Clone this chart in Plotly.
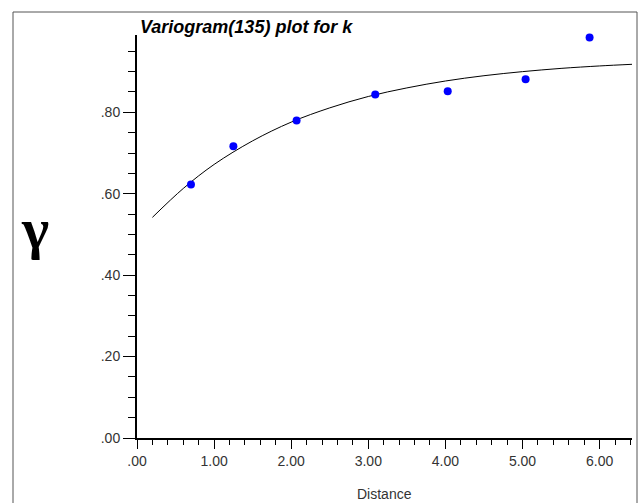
import plotly.graph_objects as go

# Experimental variogram points
lag_distance = [0.70, 1.25, 2.07, 3.09, 4.03, 5.04, 5.87]
gamma_values = [0.623, 0.717, 0.780, 0.844, 0.852, 0.881, 0.984]

# Fitted model curve
model_distance = [0.2, 0.6, 1.0, 1.5, 2.0, 2.5, 3.0, 3.5, 4.0, 4.5, 5.0, 5.5, 6.0, 6.42]
model_gamma = [0.542, 0.613, 0.672, 0.730, 0.776, 0.811, 0.839, 0.860, 0.877, 0.890, 0.900, 0.908, 0.914, 0.918]

x_tick_vals = [0, 1, 2, 3, 4, 5, 6]
x_tick_text = [".00", "1.00", "2.00", "3.00", "4.00", "5.00", "6.00"]
y_tick_vals = [0, 0.2, 0.4, 0.6, 0.8]
y_tick_text = [".00", ".20", ".40", ".60", ".80"]

W, H = 644, 503
L, R, T, B = 137, 12, 35, 65
pw, ph = W - L - R, H - T - B

def px(x):
    return (x - L) / pw

def py(y):
    return (H - B - y) / ph

fig = go.Figure()
fig.add_trace(go.Scatter(x=model_distance, y=model_gamma, mode="lines",
                         line=dict(color="black", width=1, shape="spline"),
                         hoverinfo="skip", showlegend=False))
fig.add_trace(go.Scatter(x=lag_distance, y=gamma_values, mode="markers",
                         marker=dict(color="#0000ff", size=8), cliponaxis=False,
                         showlegend=False))

axis_font = dict(family="Liberation Sans, Arial, sans-serif", size=14, color="#333333")

fig.update_layout(
    width=W, height=H,
    margin=dict(l=L, r=R, t=T, b=B, pad=0),
    paper_bgcolor="white", plot_bgcolor="white",
    xaxis=dict(range=[0, 6.42], showgrid=False, zeroline=False,
               showline=True, linewidth=2, linecolor="black",
               tickmode="array", tickvals=x_tick_vals, ticktext=x_tick_text,
               ticks="outside", ticklen=9, tickwidth=1, tickcolor="black",
               tickfont=axis_font,
               minor=dict(tickmode="linear", tick0=0, dtick=0.2, ticks="outside",
                          ticklen=5, tickwidth=1, tickcolor="black", showgrid=False)),
    yaxis=dict(range=[0, 0.99], showgrid=False, zeroline=False,
               showline=True, linewidth=2, linecolor="black",
               tickmode="array", tickvals=y_tick_vals, ticktext=y_tick_text,
               ticks="outside", ticklen=12, tickwidth=1, tickcolor="black",
               tickfont=axis_font,
               minor=dict(tickmode="linear", tick0=0, dtick=0.05, ticks="outside",
                          ticklen=7, tickwidth=1, tickcolor="black", showgrid=False)),
    shapes=[dict(type="rect", xref="paper", yref="paper",
                 x0=px(13), x1=px(637), y0=py(520), y1=py(12),
                 line=dict(color="#555555", width=1), layer="below")],
    annotations=[
        dict(text="<b><i>Variogram(135) plot for k</i></b>", xref="paper", yref="paper",
             x=px(138), y=py(27), xanchor="left", yanchor="middle", showarrow=False,
             font=dict(family="Liberation Sans, Arial, sans-serif", size=18, color="black")),
        dict(text="Distance", xref="paper", yref="paper",
             x=px(384), y=py(494), xanchor="center", yanchor="middle", showarrow=False,
             font=dict(family="Liberation Sans, Arial, sans-serif", size=14, color="#333333")),
        dict(text="<b>γ</b>", xref="paper", yref="paper",
             x=px(35), y=py(228), xanchor="center", yanchor="middle", showarrow=False,
             font=dict(family="Liberation Serif, Times New Roman, serif", size=58, color="black")),
    ],
)

fig.write_html("out.html")
